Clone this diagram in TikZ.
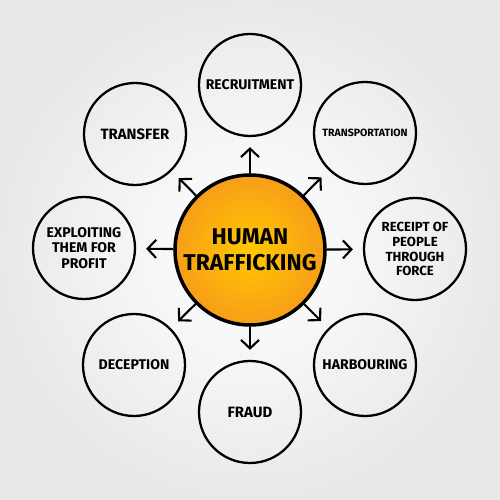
\documentclass[tikz,border=0pt]{standalone}
\usepackage{fontspec}
\setmainfont{Fira Sans}
\usetikzlibrary{arrows.meta,positioning,shapes}
\definecolor{hubinner}{RGB}{255,200,0}
\definecolor{hubouter}{RGB}{247,158,25}
\definecolor{backedge}{RGB}{232,234,234}
\tikzset{%
	hub/.style   = {draw, circle, line width=2pt, minimum size=3cm, inner sep=0pt, inner color=hubinner, outer color=hubouter, align=center, font=\bfseries\fontsize{13}{15}\selectfont},
	topic/.style = {draw, circle, line width=1.3pt, minimum size=2.04cm, inner sep=0pt, align=center, font=\bfseries\fontsize{8}{9}\selectfont},
	arrow/.style = {line width=1.2pt, -{Straight Barb[length=1.7mm,width=3.6mm]}, shorten >=2mm},
}

\begin{document}
\begin{tikzpicture}
	\shade[inner color=white, outer color=backedge] (-5,-5) rectangle (5,5);
	\useasboundingbox (-5,-5) rectangle (5,5);
	
	\node[hub] (hub) at (0,0) {HUMAN\\TRAFFICKING};
	
	\node[topic] (recruit) at (0,3.3) {RECRUITMENT};
	\node[topic,font=\bfseries\fontsize{6}{7}\selectfont] (transport) at (2.3,2.34) {TRANSPORTATION};
	\node[topic,font=\bfseries\fontsize{7.5}{8.5}\selectfont] (receipt) at (3.3,0.02) {RECEIPT OF\\PEOPLE\\THROUGH\\FORCE};
	\node[topic] (harbour) at (2.3,-2.3) {HARBOURING};
	\node[topic,font=\bfseries\fontsize{8.5}{9}\selectfont] (fraud) at (0,-3.24) {FRAUD};
	\node[topic] (deceive) at (-2.32,-2.3) {DECEPTION};
	\node[topic] (exploit) at (-3.32,0.04) {EXPLOITING\\THEM FOR\\PROFIT};
	\node[topic,font=\bfseries\fontsize{8.5}{9}\selectfont] (transfer) at (-2.3,2.32) {TRANSFER};
	
	\draw[arrow] (hub) -- (recruit);
	\draw[arrow] (hub) -- (transport);
	\draw[arrow] (hub) -- (receipt);
	\draw[arrow] (hub) -- (harbour);
	\draw[arrow] (hub) -- (fraud);
	\draw[arrow] (hub) -- (deceive);
	\draw[arrow] (hub) -- (exploit);
	\draw[arrow] (hub) -- (transfer);
\end{tikzpicture}
\end{document}
